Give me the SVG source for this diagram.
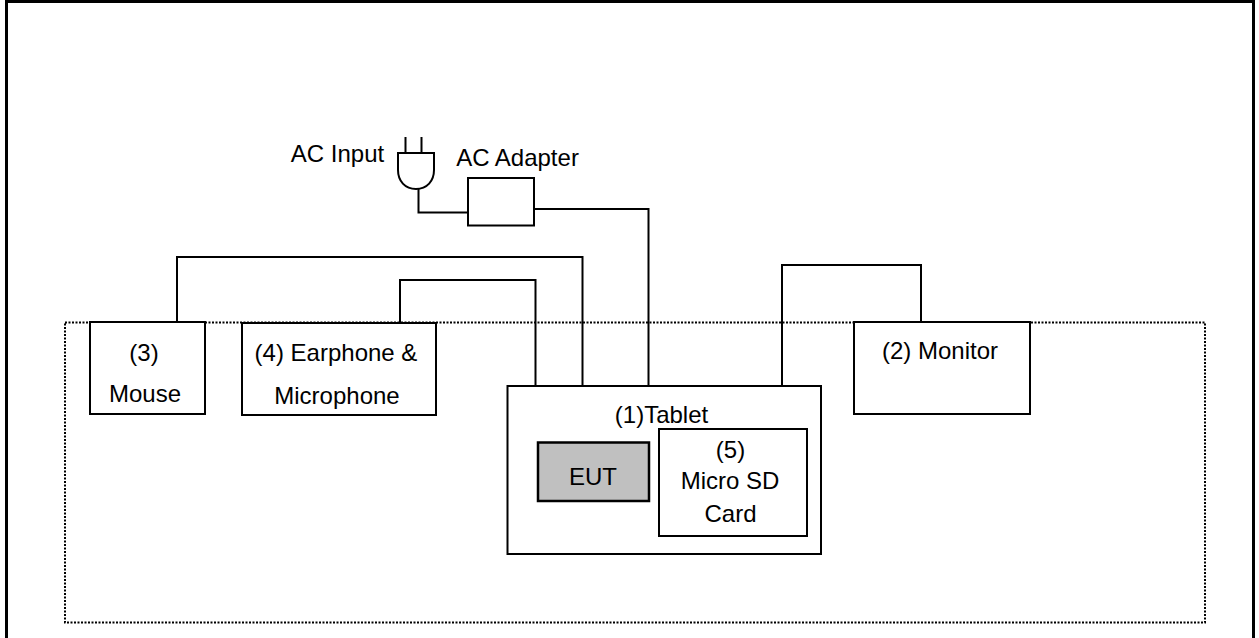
<svg xmlns="http://www.w3.org/2000/svg" width="1259" height="638" viewBox="0 0 1259 638">
<style>
.n{fill:#fff;stroke:#000;stroke-width:2}
.c{fill:none;stroke:#000;stroke-width:2}
text{font-family:"Liberation Sans",Arial,sans-serif;font-size:24px;fill:#000;text-anchor:middle}
</style>
<rect width="1259" height="638" fill="#fff"/>
<path id="frame" d="M6.500 638V1.500H1253.500V638" fill="none" stroke="#000" stroke-width="3"/>
<rect id="boundary" x="65" y="322.500" width="1140" height="300" fill="none" stroke="#000" stroke-width="2" stroke-dasharray="2 1.500"/>
<g id="connectors">
<path class="c" d="M177 322V257H582.500V386"/>
<path class="c" d="M400 323V280H535.500V386"/>
<path class="c" d="M534 209H648.500V386"/>
<path class="c" d="M782 386V265H921V322"/>
<path class="c" d="M418.500 189V212.500H468"/>
</g>
<g id="ac-input">
<path class="c" d="M405.500 137V153M421.500 137V153M398 153H434V170C434 181 427 189 416 189C405 189 398 181 398 170Z"/>
<text x="337.500" y="162">AC Input</text>
</g>
<g id="ac-adapter">
<rect class="n" x="468" y="178" width="66" height="47.500"/>
<text x="517.500" y="166">AC Adapter</text>
</g>
<g id="mouse">
<rect class="n" x="90" y="322" width="115" height="92"/>
<text x="144" y="361">(3)</text>
<text x="145" y="402">Mouse</text>
</g>
<g id="earphone">
<rect class="n" x="242" y="323" width="194" height="92"/>
<text x="336" y="361">(4) Earphone &amp;</text>
<text x="337" y="404">Microphone</text>
</g>
<g id="monitor">
<rect class="n" x="854" y="322" width="176" height="92"/>
<text x="940" y="359">(2) Monitor</text>
</g>
<g id="tablet">
<rect class="n" x="507.500" y="386" width="313.500" height="168"/>
<text x="661.500" y="423">(1)Tablet</text>
</g>
<g id="eut">
<rect x="538" y="442.500" width="111" height="58.500" fill="#c0c0c0" stroke="#000" stroke-width="2.500"/>
<text x="593" y="485">EUT</text>
</g>
<g id="sd-card">
<rect class="n" x="659" y="429" width="148" height="107"/>
<text x="730.500" y="458">(5)</text>
<text x="730" y="489">Micro SD</text>
<text x="730.500" y="522">Card</text>
</g>
</svg>
